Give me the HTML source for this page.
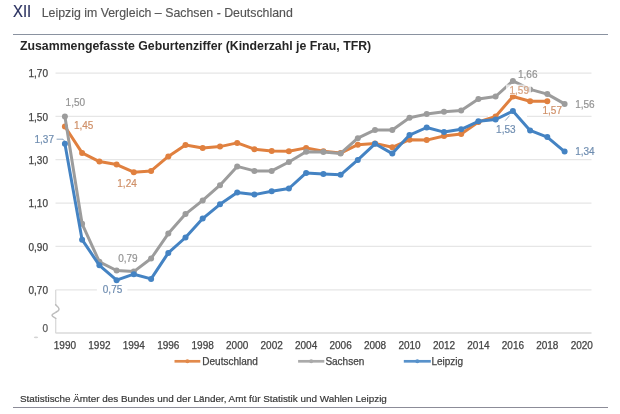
<!DOCTYPE html>
<html><head><meta charset="utf-8"><style>
html,body{margin:0;padding:0;background:#fff;}
body>*{filter:blur(0.35px);}
body{width:620px;height:414px;position:relative;overflow:hidden;font-family:"Liberation Sans",Arial,sans-serif;}
.hdr{position:absolute;left:13px;top:3px;white-space:nowrap;}
.xii{font-size:16px;color:#29305F;-webkit-text-stroke:0.2px #29305F;display:inline-block;transform:scaleX(0.93);transform-origin:0 0;margin-right:-1.3px;}
.ht{font-size:12.35px;color:#545454;margin-left:10.4px;-webkit-text-stroke:0.15px #545454;}
.l1{position:absolute;left:13px;top:33.7px;width:595px;height:1.2px;background:#8A92A0;}
.title{position:absolute;left:20px;top:38.8px;font-size:12.3px;font-weight:bold;color:#262626;white-space:nowrap;}
.src{position:absolute;left:20px;top:392.6px;font-size:9.9px;color:#383838;-webkit-text-stroke:0.2px #383838;white-space:nowrap;}
.l2{position:absolute;left:13px;top:406.8px;width:595px;height:1.2px;background:#8C8C98;}
svg{position:absolute;left:0;top:0;}
.ax{font-size:10px;fill:#444444;stroke:#444444;stroke-width:0.25px;font-family:"Liberation Sans",Arial,sans-serif;}
.dl{font-size:10px;font-family:"Liberation Sans",Arial,sans-serif;}
</style></head><body>
<div class="hdr"><span class="xii">XII</span><span class="ht">Leipzig im Vergleich – Sachsen - Deutschland</span></div>
<div class="l1"></div>
<div class="title">Zusammengefasste Geburtenziffer (Kinderzahl je Frau, TFR)</div>
<svg width="620" height="414" viewBox="0 0 620 414">
<line x1="55.5" y1="73.1" x2="591.5" y2="73.1" stroke="#E6E6E6" stroke-width="1.3"/>
<line x1="55.5" y1="116.35" x2="591.5" y2="116.35" stroke="#E6E6E6" stroke-width="1.3"/>
<line x1="55.5" y1="159.7" x2="591.5" y2="159.7" stroke="#E6E6E6" stroke-width="1.3"/>
<line x1="55.5" y1="203.1" x2="591.5" y2="203.1" stroke="#E6E6E6" stroke-width="1.3"/>
<line x1="55.5" y1="246.35" x2="591.5" y2="246.35" stroke="#E6E6E6" stroke-width="1.3"/>
<line x1="55.5" y1="289.9" x2="591.5" y2="289.9" stroke="#E6E6E6" stroke-width="1.3"/>
<line x1="55.5" y1="332.9" x2="591.5" y2="332.9" stroke="#E3E3E3" stroke-width="2"/>
<path d="M55.7,289.9 L55.7,305 M55.7,318.2 L55.7,333" fill="none" stroke="#DADADA" stroke-width="1.3"/>
<path d="M55.7,304 L55.7,305 C57,306 59,307.6 59,309.2 C59,311 56.6,311.6 55.5,312.5 C54.2,313.5 52,314 52,315.3 C52,316.6 54.5,317.5 55.7,318.3 L55.7,319" fill="none" stroke="#BDBDBD" stroke-width="1.5"/>
<text x="48" y="77.3" text-anchor="end" class="ax">1,70</text><text x="48" y="120.7" text-anchor="end" class="ax">1,50</text><text x="48" y="164.1" text-anchor="end" class="ax">1,30</text><text x="48" y="207.4" text-anchor="end" class="ax">1,10</text><text x="48" y="250.8" text-anchor="end" class="ax">0,90</text><text x="48" y="294.2" text-anchor="end" class="ax">0,70</text><text x="48" y="332.0" text-anchor="end" class="ax" style="fill:#5A5A5A;stroke:#5A5A5A">0</text><ellipse cx="36" cy="337.3" rx="2.2" ry="0.9" fill="#D4D4D4"/>
<text x="64.9" y="348.6" text-anchor="middle" class="ax">1990</text><text x="99.4" y="348.6" text-anchor="middle" class="ax">1992</text><text x="133.8" y="348.6" text-anchor="middle" class="ax">1994</text><text x="168.3" y="348.6" text-anchor="middle" class="ax">1996</text><text x="202.7" y="348.6" text-anchor="middle" class="ax">1998</text><text x="237.2" y="348.6" text-anchor="middle" class="ax">2000</text><text x="271.7" y="348.6" text-anchor="middle" class="ax">2002</text><text x="306.1" y="348.6" text-anchor="middle" class="ax">2004</text><text x="340.6" y="348.6" text-anchor="middle" class="ax">2006</text><text x="375.0" y="348.6" text-anchor="middle" class="ax">2008</text><text x="409.5" y="348.6" text-anchor="middle" class="ax">2010</text><text x="444.0" y="348.6" text-anchor="middle" class="ax">2012</text><text x="478.4" y="348.6" text-anchor="middle" class="ax">2014</text><text x="512.9" y="348.6" text-anchor="middle" class="ax">2016</text><text x="547.3" y="348.6" text-anchor="middle" class="ax">2018</text><text x="581.8" y="348.6" text-anchor="middle" class="ax">2020</text>
<rect x="96.9" y="287.5" width="30.5" height="5" fill="#fff"/>
<rect x="488" y="114" width="39" height="5" fill="#fff"/>
<polyline points="64.9,126.5 82.1,152.9 99.4,161.6 116.6,164.6 133.8,172.2 151.1,170.9 168.3,156.4 185.5,144.9 202.7,147.9 220.0,146.6 237.2,142.9 254.4,149.2 271.7,151.0 288.9,151.2 306.1,147.9 323.4,151.2 340.6,153.1 357.8,144.7 375.0,143.4 392.3,147.3 409.5,139.7 426.7,140.1 444.0,136.0 461.2,134.0 478.4,121.9 495.6,116.5 512.9,96.5 530.1,101.3 547.3,101.3" fill="none" stroke="#E0803F" stroke-width="3" stroke-linejoin="round" stroke-linecap="round"/>
<circle cx="64.9" cy="126.5" r="3" fill="#E0803F"/><circle cx="82.1" cy="152.9" r="3" fill="#E0803F"/><circle cx="99.4" cy="161.6" r="3" fill="#E0803F"/><circle cx="116.6" cy="164.6" r="3" fill="#E0803F"/><circle cx="133.8" cy="172.2" r="3" fill="#E0803F"/><circle cx="151.1" cy="170.9" r="3" fill="#E0803F"/><circle cx="168.3" cy="156.4" r="3" fill="#E0803F"/><circle cx="185.5" cy="144.9" r="3" fill="#E0803F"/><circle cx="202.7" cy="147.9" r="3" fill="#E0803F"/><circle cx="220.0" cy="146.6" r="3" fill="#E0803F"/><circle cx="237.2" cy="142.9" r="3" fill="#E0803F"/><circle cx="254.4" cy="149.2" r="3" fill="#E0803F"/><circle cx="271.7" cy="151.0" r="3" fill="#E0803F"/><circle cx="288.9" cy="151.2" r="3" fill="#E0803F"/><circle cx="306.1" cy="147.9" r="3" fill="#E0803F"/><circle cx="323.4" cy="151.2" r="3" fill="#E0803F"/><circle cx="340.6" cy="153.1" r="3" fill="#E0803F"/><circle cx="357.8" cy="144.7" r="3" fill="#E0803F"/><circle cx="375.0" cy="143.4" r="3" fill="#E0803F"/><circle cx="392.3" cy="147.3" r="3" fill="#E0803F"/><circle cx="409.5" cy="139.7" r="3" fill="#E0803F"/><circle cx="426.7" cy="140.1" r="3" fill="#E0803F"/><circle cx="444.0" cy="136.0" r="3" fill="#E0803F"/><circle cx="461.2" cy="134.0" r="3" fill="#E0803F"/><circle cx="478.4" cy="121.9" r="3" fill="#E0803F"/><circle cx="495.6" cy="116.5" r="3" fill="#E0803F"/><circle cx="512.9" cy="96.5" r="3" fill="#E0803F"/><circle cx="530.1" cy="101.3" r="3" fill="#E0803F"/><circle cx="547.3" cy="101.3" r="3" fill="#E0803F"/>

<polyline points="64.9,116.5 82.1,223.8 99.4,261.8 116.6,270.5 133.8,271.6 151.1,258.5 168.3,233.6 185.5,214.1 202.7,200.4 220.0,185.2 237.2,166.4 254.4,170.9 271.7,170.9 288.9,162.0 306.1,151.8 323.4,152.1 340.6,153.4 357.8,138.2 375.0,129.9 392.3,129.9 409.5,117.8 426.7,114.1 444.0,111.7 461.2,110.4 478.4,98.9 495.6,96.5 512.9,80.9 530.1,89.4 547.3,94.1 564.6,103.9" fill="none" stroke="#9C9C9C" stroke-width="3" stroke-linejoin="round" stroke-linecap="round"/>
<circle cx="64.9" cy="116.5" r="3" fill="#9C9C9C"/><circle cx="82.1" cy="223.8" r="3" fill="#9C9C9C"/><circle cx="99.4" cy="261.8" r="3" fill="#9C9C9C"/><circle cx="116.6" cy="270.5" r="3" fill="#9C9C9C"/><circle cx="133.8" cy="271.6" r="3" fill="#9C9C9C"/><circle cx="151.1" cy="258.5" r="3" fill="#9C9C9C"/><circle cx="168.3" cy="233.6" r="3" fill="#9C9C9C"/><circle cx="185.5" cy="214.1" r="3" fill="#9C9C9C"/><circle cx="202.7" cy="200.4" r="3" fill="#9C9C9C"/><circle cx="220.0" cy="185.2" r="3" fill="#9C9C9C"/><circle cx="237.2" cy="166.4" r="3" fill="#9C9C9C"/><circle cx="254.4" cy="170.9" r="3" fill="#9C9C9C"/><circle cx="271.7" cy="170.9" r="3" fill="#9C9C9C"/><circle cx="288.9" cy="162.0" r="3" fill="#9C9C9C"/><circle cx="306.1" cy="151.8" r="3" fill="#9C9C9C"/><circle cx="323.4" cy="152.1" r="3" fill="#9C9C9C"/><circle cx="340.6" cy="153.4" r="3" fill="#9C9C9C"/><circle cx="357.8" cy="138.2" r="3" fill="#9C9C9C"/><circle cx="375.0" cy="129.9" r="3" fill="#9C9C9C"/><circle cx="392.3" cy="129.9" r="3" fill="#9C9C9C"/><circle cx="409.5" cy="117.8" r="3" fill="#9C9C9C"/><circle cx="426.7" cy="114.1" r="3" fill="#9C9C9C"/><circle cx="444.0" cy="111.7" r="3" fill="#9C9C9C"/><circle cx="461.2" cy="110.4" r="3" fill="#9C9C9C"/><circle cx="478.4" cy="98.9" r="3" fill="#9C9C9C"/><circle cx="495.6" cy="96.5" r="3" fill="#9C9C9C"/><circle cx="512.9" cy="80.9" r="3" fill="#9C9C9C"/><circle cx="530.1" cy="89.4" r="3" fill="#9C9C9C"/><circle cx="547.3" cy="94.1" r="3" fill="#9C9C9C"/><circle cx="564.6" cy="103.9" r="3" fill="#9C9C9C"/>

<polyline points="64.9,143.8 82.1,239.7 99.4,265.3 116.6,280.2 133.8,274.2 151.1,278.9 168.3,252.9 185.5,237.5 202.7,218.6 220.0,204.3 237.2,192.6 254.4,194.6 271.7,191.3 288.9,188.5 306.1,172.9 323.4,174.0 340.6,174.8 357.8,159.9 375.0,143.8 392.3,153.6 409.5,135.1 426.7,127.5 444.0,132.1 461.2,129.3 478.4,121.3 495.6,119.5 512.9,111.1 530.1,130.4 547.3,137.1 564.6,151.6" fill="none" stroke="#4483C3" stroke-width="3" stroke-linejoin="round" stroke-linecap="round"/>
<circle cx="64.9" cy="143.8" r="3" fill="#4483C3"/><circle cx="82.1" cy="239.7" r="3" fill="#4483C3"/><circle cx="99.4" cy="265.3" r="3" fill="#4483C3"/><circle cx="116.6" cy="280.2" r="3" fill="#4483C3"/><circle cx="133.8" cy="274.2" r="3" fill="#4483C3"/><circle cx="151.1" cy="278.9" r="3" fill="#4483C3"/><circle cx="168.3" cy="252.9" r="3" fill="#4483C3"/><circle cx="185.5" cy="237.5" r="3" fill="#4483C3"/><circle cx="202.7" cy="218.6" r="3" fill="#4483C3"/><circle cx="220.0" cy="204.3" r="3" fill="#4483C3"/><circle cx="237.2" cy="192.6" r="3" fill="#4483C3"/><circle cx="254.4" cy="194.6" r="3" fill="#4483C3"/><circle cx="271.7" cy="191.3" r="3" fill="#4483C3"/><circle cx="288.9" cy="188.5" r="3" fill="#4483C3"/><circle cx="306.1" cy="172.9" r="3" fill="#4483C3"/><circle cx="323.4" cy="174.0" r="3" fill="#4483C3"/><circle cx="340.6" cy="174.8" r="3" fill="#4483C3"/><circle cx="357.8" cy="159.9" r="3" fill="#4483C3"/><circle cx="375.0" cy="143.8" r="3" fill="#4483C3"/><circle cx="392.3" cy="153.6" r="3" fill="#4483C3"/><circle cx="409.5" cy="135.1" r="3" fill="#4483C3"/><circle cx="426.7" cy="127.5" r="3" fill="#4483C3"/><circle cx="444.0" cy="132.1" r="3" fill="#4483C3"/><circle cx="461.2" cy="129.3" r="3" fill="#4483C3"/><circle cx="478.4" cy="121.3" r="3" fill="#4483C3"/><circle cx="495.6" cy="119.5" r="3" fill="#4483C3"/><circle cx="512.9" cy="111.1" r="3" fill="#4483C3"/><circle cx="530.1" cy="130.4" r="3" fill="#4483C3"/><circle cx="547.3" cy="137.1" r="3" fill="#4483C3"/><circle cx="564.6" cy="151.6" r="3" fill="#4483C3"/>

<text x="65.6" y="106.4" class="dl" fill="#939393" stroke="#939393" stroke-width="0.2">1,50</text>
<text x="118.2" y="261.9" class="dl" fill="#939393" stroke="#939393" stroke-width="0.2">0,79</text>
<text x="518" y="78.1" class="dl" fill="#939393" stroke="#939393" stroke-width="0.2">1,66</text>
<text x="575.2" y="107.6" class="dl" fill="#939393" stroke="#939393" stroke-width="0.2">1,56</text>
<rect x="506" y="84.5" width="25" height="10.5" fill="#fff" fill-opacity="0.7"/>
<text x="73.9" y="129.1" class="dl" fill="#CF9068" stroke="#CF9068" stroke-width="0.2">1,45</text>
<text x="117.3" y="187.1" class="dl" fill="#CF9068" stroke="#CF9068" stroke-width="0.2">1,24</text>
<text x="509.5" y="93.8" class="dl" fill="#CF9068" stroke="#CF9068" stroke-width="0.2" fill-opacity="0.75">1,59</text>
<text x="542.5" y="114.3" class="dl" fill="#CF9068" stroke="#CF9068" stroke-width="0.2">1,57</text>
<text x="34.5" y="142.9" class="dl" fill="#6F8DB0" stroke="#6F8DB0" stroke-width="0.2">1,37</text>
<polyline points="56.6,139.2 63,139.2 64.5,141" fill="none" stroke="#6F8DB0" stroke-width="0.8"/>
<text x="102.8" y="293.2" class="dl" fill="#6F8DB0" stroke="#6F8DB0" stroke-width="0.2">0,75</text>
<text x="496.1" y="133.4" class="dl" fill="#6F8DB0" stroke="#6F8DB0" stroke-width="0.2">1,53</text>
<line x1="505.2" y1="120.6" x2="509.6" y2="115.6" stroke="#6F8DB0" stroke-width="0.8"/>
<text x="575.2" y="154.9" class="dl" fill="#6F8DB0" stroke="#6F8DB0" stroke-width="0.2">1,34</text>
<line x1="174.5" y1="361.3" x2="200.3" y2="361.3" stroke="#E28A4C" stroke-width="2.7"/>
<circle cx="187.4" cy="361.3" r="2" fill="#E28A4C"/>
<text x="202.3" y="364.9" class="ax">Deutschland</text>
<line x1="298.1" y1="361.3" x2="324.3" y2="361.3" stroke="#AAAAAA" stroke-width="2.7"/>
<circle cx="311.2" cy="361.3" r="2" fill="#AAAAAA"/>
<text x="325.4" y="364.9" class="ax">Sachsen</text>
<line x1="403.8" y1="361.3" x2="430.8" y2="361.3" stroke="#5892CB" stroke-width="2.7"/>
<circle cx="417.3" cy="361.3" r="2" fill="#5892CB"/>
<text x="431.4" y="364.9" class="ax">Leipzig</text>
</svg>
<div class="src">Statistische Ämter des Bundes und der Länder, Amt für Statistik und Wahlen Leipzig</div>
<div class="l2"></div>
</body></html>
